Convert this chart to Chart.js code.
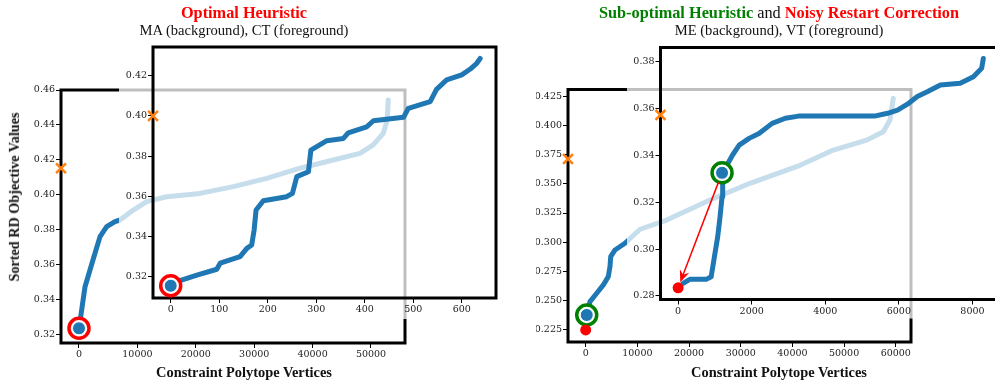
<!DOCTYPE html>
<html>
<head>
<meta charset="utf-8">
<script src="https://cdn.jsdelivr.net/npm/chart.js@4.4.1/dist/chart.umd.min.js"></script>
<style>
  body { margin: 0; background: #fff; }
  #wrap { position: relative; width: 995px; height: 383px; overflow: hidden; }
  canvas { position: absolute; left: 0; top: 0; }
  .t { position: absolute; font-family: "Liberation Serif", "Times New Roman", serif; white-space: nowrap; line-height: 1; transform: translateX(-50%); color: #111; }
  .b { font-weight: bold; }
</style>
</head>
<body>
<div id="wrap">
  <canvas id="bgL" width="995" height="383"></canvas>
  <canvas id="inL" width="995" height="383"></canvas>
  <canvas id="bgR" width="995" height="383"></canvas>
  <canvas id="inR" width="1010" height="383"></canvas>

  <div class="t b" style="left:244px;top:4.7px;font-size:16.3px;color:#ff0000">Optimal Heuristic</div>
  <div class="t" style="left:244px;top:23px;font-size:14.6px">MA (background), CT (foreground)</div>
  <div class="t b" style="left:779px;top:4.7px;font-size:16.3px"><span style="color:#008000">Sub-optimal Heuristic</span><span style="font-weight:normal"> and </span><span style="color:#ff0000">Noisy Restart Correction</span></div>
  <div class="t" style="left:779px;top:23px;font-size:14.6px">ME (background), VT (foreground)</div>
  <div class="t b" style="left:244px;top:365px;font-size:14.4px">Constraint Polytope Vertices</div>
  <div class="t b" style="left:779px;top:365px;font-size:14.4px">Constraint Polytope Vertices</div>
  <div class="t b" style="left:14px;top:197px;font-size:14.2px;transform:translate(-50%,-50%) rotate(-90deg)">Sorted RD Objective Values</div>
</div>
<script>
// --- left panel: MA (background) sorted objective values
const maX = [0, 460, 1030, 1880, 2740, 3600, 4740, 6160, 7020, 9300, 11590, 15010, 20720, 26420, 32130, 37840, 43540, 48110, 50380, 52100, 52780, 52950];
const maY = [0.3238, 0.3343, 0.3476, 0.3571, 0.3667, 0.3762, 0.3819, 0.3848, 0.3857, 0.3914, 0.3962, 0.3990, 0.4009, 0.4048, 0.4095, 0.4153, 0.4200, 0.4238, 0.4286, 0.4352, 0.4429, 0.4543];
const maStart = [0, 0.3238];
const maRandom = 0.4153;

// --- left panel: CT (foreground inset)
const ctX = [0, 19, 54, 95, 102, 143, 157, 167, 172, 176, 191, 239, 251, 260, 284, 289, 322, 356, 366, 404, 418, 480, 490, 535, 548, 569, 600, 617, 631, 638];
const ctY = [0.3159, 0.3180, 0.3208, 0.3237, 0.3267, 0.3300, 0.3341, 0.3358, 0.3432, 0.3532, 0.3578, 0.3598, 0.3615, 0.3698, 0.3722, 0.3830, 0.3877, 0.3888, 0.3916, 0.3946, 0.3976, 0.3993, 0.4038, 0.4071, 0.4132, 0.4179, 0.4204, 0.4232, 0.4262, 0.4286];
const ctStart = [0, 0.3155];
const ctRandom = 0.400;

// --- right panel: ME (background)
const meX = [200, 830, 2130, 3410, 4370, 4700, 4840, 5670, 7600, 10510, 15670, 24050, 31790, 41470, 47920, 54370, 57590, 58880, 59520];
const meY = [0.2378, 0.2492, 0.2564, 0.2635, 0.2706, 0.2791, 0.2877, 0.2934, 0.2991, 0.3111, 0.3190, 0.3361, 0.3504, 0.3658, 0.3788, 0.3873, 0.3945, 0.4045, 0.4230];
const meStart = [200, 0.2378];
const meRestart = [0, 0.2250];
const meRandom = 0.3712;

// --- right panel: VT (foreground inset)
const vtX = [135, 315, 764, 898, 987, 1076, 1140, 1194, 1211, 1302, 1480, 1660, 1929, 2198, 2556, 2915, 3273, 5337, 5695, 5964, 6233, 6502, 6771, 7129, 7667, 8027, 8250, 8296];
const vtY = [0.2854, 0.2871, 0.2871, 0.2882, 0.2968, 0.3053, 0.3138, 0.3224, 0.3309, 0.3352, 0.3402, 0.3444, 0.3473, 0.3494, 0.3537, 0.3559, 0.3568, 0.3568, 0.3580, 0.3594, 0.3619, 0.3652, 0.3672, 0.3701, 0.3708, 0.3736, 0.3772, 0.3814];
const vtStart = [1194, 0.3326];
const vtRestart = [0, 0.2835];
const vtRandom = 0.3573;

// tick labels
const bgLxTicks = [0, 10000, 20000, 30000, 40000, 50000];
const bgLyTicks = [0.32, 0.34, 0.36, 0.38, 0.40, 0.42, 0.44, 0.46];
const inLxTicks = [0, 100, 200, 300, 400, 500, 600];
const inLyTicks = [0.32, 0.34, 0.36, 0.38, 0.40, 0.42];
const bgRxTicks = [0, 10000, 20000, 30000, 40000, 50000, 60000];
const bgRyTicks = [0.225, 0.250, 0.275, 0.300, 0.325, 0.350, 0.375, 0.400, 0.425];
const inRxTicks = [0, 2000, 4000, 6000, 8000];
const inRyTicks = [0.28, 0.30, 0.32, 0.34, 0.36, 0.38];

const BLUE = '#1f77b4';
const ORANGE = '#ff7f0e';
const RED = '#ff0000';
const GREEN = '#008000';

function pts(xs, ys) { return xs.map((x, i) => ({ x: x, y: ys[i] })); }

function lineSet(xs, ys) {
  return { data: pts(xs, ys), showLine: true, borderColor: BLUE, borderWidth: 5, pointRadius: 0,
           borderJoinStyle: 'round', borderCapStyle: 'round', order: 10 };
}
function crossSet(x, y) {
  return { data: [{ x: x, y: y }], pointStyle: 'crossRot', pointRadius: 7, borderColor: ORANGE,
           borderWidth: 2.5, clip: false, order: 1 };
}
function ringSet(p, color, r) {
  return { data: [{ x: p[0], y: p[1] }], pointStyle: 'circle', pointRadius: r, borderColor: color,
           backgroundColor: 'rgba(255,255,255,1)', borderWidth: 3.5, clip: false, order: 5 };
}
function dotSet(p, color, r, ord) {
  return { data: [{ x: p[0], y: p[1] }], pointStyle: 'circle', pointRadius: r, backgroundColor: color,
           borderColor: '#fff', borderWidth: color === BLUE ? 1 : 0, clip: false, order: ord };
}

const framePlugin = {
  id: 'frame',
  beforeDatasetsDraw(chart) {
    const a = chart.chartArea, ctx = chart.ctx;
    ctx.save();
    ctx.strokeStyle = '#000';
    ctx.lineWidth = 3;
    ctx.strokeRect(a.left, a.top, a.right - a.left, a.bottom - a.top);
    ctx.restore();
  }
};

const fadePlugin = {
  id: 'fade',
  beforeDraw(chart, args, opts) {
    if (!opts.on) return;
    const a = chart.chartArea, ctx = chart.ctx;
    const l = chart.scales.y.left, b = chart.scales.x.bottom;
    ctx.save();
    ctx.fillStyle = 'rgba(255,255,255,0.75)';
    ctx.fillRect(l, a.top - 10, a.right - l + 10, b - a.top + 10);
    ctx.restore();
  }
};

const arrowPlugin = {
  id: 'arrow',
  afterDatasetsDraw(chart, args, opts) {
    if (!opts.from) return;
    const sx = chart.scales.x, sy = chart.scales.y;
    const x0 = sx.getPixelForValue(opts.from[0]), y0 = sy.getPixelForValue(opts.from[1]);
    const x1 = sx.getPixelForValue(opts.to[0]), y1 = sy.getPixelForValue(opts.to[1]);
    const dx = x1 - x0, dy = y1 - y0, len = Math.hypot(dx, dy);
    const ux = dx / len, uy = dy / len;
    const ax = x0 + ux * 10, ay = y0 + uy * 10;
    const bx = x1 - ux * 6, by = y1 - uy * 6;
    const ctx = chart.ctx;
    ctx.save();
    ctx.strokeStyle = RED; ctx.fillStyle = RED; ctx.lineWidth = 1.5;
    ctx.beginPath(); ctx.moveTo(ax, ay); ctx.lineTo(bx - ux * 8, by - uy * 8); ctx.stroke();
    ctx.beginPath();
    ctx.moveTo(bx, by);
    ctx.lineTo(bx - ux * 12 - uy * 5, by - uy * 12 + ux * 5);
    ctx.lineTo(bx - ux * 8, by - uy * 8);
    ctx.lineTo(bx - ux * 12 + uy * 5, by - uy * 12 - ux * 5);
    ctx.closePath(); ctx.fill();
    ctx.restore();
  }
};

function axis(min, max, ticks, dec, size, horiz) {
  return {
    type: 'linear', min: min, max: max,
    afterBuildTicks: s => { s.ticks = ticks.map(v => ({ value: v })); },
    afterFit: s => { if (horiz) s.height = size; else s.width = size; },
    ticks: { callback: (v, i) => ticks[i].toFixed(dec), color: '#222', padding: 1,
             font: { family: 'DejaVu Serif', size: 9.5 }, maxRotation: 0, autoSkip: false },
    grid: { drawOnChartArea: false, drawTicks: true, tickLength: 5, color: '#000', tickWidth: 1 },
    border: { display: false }
  };
}

function make(id, box, yW, xH, xs, ys, datasets, extra) {
  const c = document.getElementById(id);
  const W = c.width, H = c.height;
  return new Chart(c, {
    type: 'scatter',
    data: { datasets: datasets },
    options: {
      responsive: false, animation: false, events: [],
      layout: { padding: { left: box.l - yW, top: box.t, right: W - box.r, bottom: H - box.b - xH } },
      scales: {
        x: axis(xs[0], xs[1], xs[2], 0, xH, true),
        y: axis(ys[0], ys[1], ys[2], ys[3], yW, false)
      },
      plugins: Object.assign({ legend: { display: false }, tooltip: { enabled: false } }, extra)
    },
    plugins: [fadePlugin, framePlugin, arrowPlugin]
  });
}

// left background
make('bgL', { l: 61, t: 90, r: 405, b: 343 }, 32, 22,
  [-3082, 55822, bgLxTicks], [0.3154, 0.46, bgLyTicks, 2],
  [crossSet(-3082, maRandom), dotSet(maStart, BLUE, 6.5, 2), ringSet(maStart, RED, 10), lineSet(maX, maY)],
  {});

// left inset
make('inL', { l: 153, t: 47, r: 496, b: 298 }, 34, 21,
  [-36.5, 670.7, inLxTicks], [0.3094, 0.4343, inLyTicks, 2],
  [crossSet(-36.5, ctRandom), dotSet(ctStart, BLUE, 6.5, 2), ringSet(ctStart, RED, 10), lineSet(ctX, ctY)],
  { fade: { on: true } });

// right background
make('bgR', { l: 568, t: 89.5, r: 911, b: 342 }, 32, 22,
  [-3425, 62946, bgRxTicks], [0.2147, 0.4306, bgRyTicks, 3],
  [crossSet(-3425, meRandom), dotSet(meRestart, RED, 5.5, 0), dotSet(meStart, BLUE, 6.5, 2), ringSet(meStart, GREEN, 10), lineSet(meX, meY)],
  {});

// right inset
make('inR', { l: 660.5, t: 47.5, r: 1000, b: 299.5 }, 33.5, 19,
  [-479, 8654, inRxTicks], [0.2785, 0.3861, inRyTicks, 2],
  [crossSet(-479, vtRandom), dotSet(vtRestart, RED, 5.5, 0), dotSet(vtStart, BLUE, 6.5, 2), ringSet(vtStart, GREEN, 10), lineSet(vtX, vtY)],
  { fade: { on: true }, arrow: { from: vtStart, to: vtRestart } });
</script>
</body>
</html>
